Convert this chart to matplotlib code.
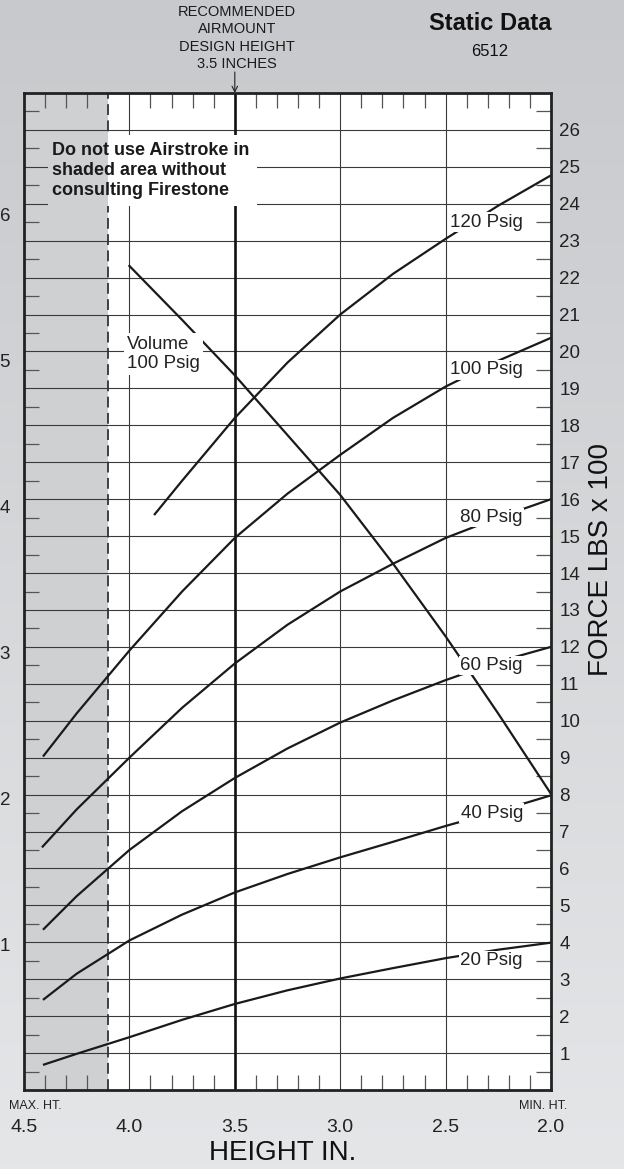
import matplotlib
matplotlib.use("Agg")
import matplotlib.pyplot as plt
import numpy as np
from matplotlib.patches import Rectangle

plt.rcParams['font.family'] = ['Liberation Sans', 'DejaVu Sans']

# force curves (height in., force lbs x 100)
h_120 = [3.883, 3.75, 3.5, 3.25, 3.0, 2.75, 2.5, 2.25, 2.0]
f_120 = [15.57, 16.5, 18.2, 19.7, 21.0, 22.1, 23.05, 23.95, 24.77]
h_100 = [4.41, 4.25, 4.0, 3.75, 3.5, 3.25, 3.0, 2.75, 2.5, 2.25, 2.0]
f_100 = [9.03, 10.2, 11.9, 13.5, 14.95, 16.15, 17.2, 18.2, 19.05, 19.75, 20.37]
h_80 = [4.415, 4.25, 4.0, 3.75, 3.5, 3.25, 3.0, 2.75, 2.5, 2.25, 2.0]
f_80 = [6.57, 7.6, 9.0, 10.35, 11.55, 12.6, 13.5, 14.25, 14.95, 15.5, 16.0]
h_60 = [4.41, 4.25, 4.0, 3.75, 3.5, 3.25, 3.0, 2.75, 2.5, 2.25, 2.0]
f_60 = [4.34, 5.25, 6.5, 7.55, 8.45, 9.25, 9.95, 10.55, 11.1, 11.6, 12.0]
h_40 = [4.41, 4.25, 4.0, 3.75, 3.5, 3.25, 3.0, 2.75, 2.5, 2.25, 2.0]
f_40 = [2.44, 3.15, 4.05, 4.75, 5.35, 5.85, 6.3, 6.72, 7.15, 7.55, 7.98]
h_20 = [4.41, 4.25, 4.0, 3.75, 3.5, 3.25, 3.0, 2.75, 2.5, 2.25, 2.0]
f_20 = [0.68, 0.98, 1.43, 1.9, 2.33, 2.7, 3.02, 3.3, 3.57, 3.8, 3.99]

# volume at 100 psig (left scale)
h_vol = [4.0, 3.75, 3.5, 3.25, 3.0, 2.75, 2.5, 2.25, 2.0]
vol = [5.65, 5.28, 4.90, 4.49, 4.08, 3.61, 3.11, 2.58, 2.03]

curves = [(h_120, f_120, '120 Psig', 23.5), (h_100, f_100, '100 Psig', 19.5),
          (h_80, f_80, '80 Psig', 15.5), (h_60, f_60, '60 Psig', 11.5),
          (h_40, f_40, '40 Psig', 7.5), (h_20, f_20, '20 Psig', 3.5)]

height_ticks = [4.5, 4.0, 3.5, 3.0, 2.5, 2.0]
force_ticks = list(range(1, 27))
vol_ticks = [1, 2, 3, 4, 5, 6]
VOL_SCALE = 3.95

W, H = 624, 1169
fig = plt.figure(figsize=(W / 100, H / 100), dpi=100)

# gradient background
bg = fig.add_axes([0, 0, 1, 1], zorder=-10)
grad = np.linspace(0, 1, 256).reshape(-1, 1)
top = np.array([200, 201, 204]) / 255
bot = np.array([229, 230, 232]) / 255
img = top + (bot - top) * grad[:, :, None]
bg.imshow(img, aspect='auto', extent=[0, 1, 0, 1], origin='upper')
bg.axis('off')

L, R, T, B = 24, 551, 93, 1090
ax = fig.add_axes([L / W, 1 - B / H, (R - L) / W, (B - T) / H])
ax.set_facecolor('white')
ax.set_xlim(4.5, 2.0)
ax.set_ylim(0, 27)

# shaded zone + dashed limit
ax.axvspan(4.5, 4.1, color='#cfd0d2', lw=0, zorder=0.5)
ax.axvline(4.1, color='#333333', lw=1.3, ls=(0, (6, 3)), zorder=1.5)

for y in force_ticks:
    ax.axhline(y, color='#3a3a3a', lw=0.8, zorder=1)
for x in [4.0, 3.0, 2.5]:
    ax.axvline(x, color='#3a3a3a', lw=0.8, zorder=1)
ax.axvline(3.5, color='#111111', lw=1.9, zorder=1.2)

# warning box
ax.add_patch(Rectangle((4.1, 23.95), 4.386 - 4.1, 1.9,
                       facecolor='#cfd0d2', lw=0, zorder=2))
ax.add_patch(Rectangle((3.395, 23.95), 4.1 - 3.395, 1.9,
                       facecolor='white', lw=0, zorder=2))
ax.text(4.367, 24.9, 'Do not use Airstroke in\nshaded area without\nconsulting Firestone',
        fontsize=13, fontweight='bold', ha='left', va='center', linespacing=1.22,
        color='#1a1a1a', zorder=5)

for hh, ff, lab, ly in curves:
    ax.plot(hh, ff, color='#1a1a1a', lw=1.6, zorder=3, solid_capstyle='butt')
    ax.text(2.133, ly, lab, fontsize=13.5, ha='right', va='center', color='#222222',
            zorder=5, bbox=dict(facecolor='white', edgecolor='none', pad=1.0))

ax.plot(h_vol, np.array(vol) * VOL_SCALE, color='#1a1a1a', lw=1.6, zorder=3)
ax.text(4.011, 19.93, 'Volume\n100 Psig', fontsize=13.5, ha='left', va='center',
        color='#222222', linespacing=1.22, zorder=4,
        bbox=dict(facecolor='white', edgecolor='none', pad=2.0))

# axes ticks
ax.set_xticks(height_ticks)
ax.set_xticklabels(['%.1f' % v for v in height_ticks])
minor_x = [4.4, 4.3, 4.2, 3.9, 3.8, 3.7, 3.6, 3.4, 3.3, 3.2, 3.1,
           2.9, 2.8, 2.7, 2.6, 2.4, 2.3, 2.2, 2.1]
ax.set_xticks(minor_x, minor=True)
ax.tick_params(axis='x', which='major', length=0, pad=21, labelsize=14, labelcolor='#222222')
ax.tick_params(axis='x', which='minor', direction='in', length=11, width=0.9,
               color='#555555', top=True, bottom=True)

ax.set_yticks(force_ticks)
ax.set_yticks([v + 0.5 for v in range(0, 27)], minor=True)
ax.yaxis.tick_right()
ax.tick_params(axis='y', which='major', length=0, pad=6, labelsize=13.5,
               labelcolor='#222222', left=False, right=True, labelleft=False, labelright=True)
ax.tick_params(axis='y', which='minor', direction='in', length=11, width=0.9,
               color='#555555', left=True, right=True)

for s in ax.spines.values():
    s.set_linewidth(2.0)
    s.set_color('#222222')
    s.set_zorder(6)

sec = ax.secondary_yaxis('left', functions=(lambda f: f / VOL_SCALE, lambda v: v * VOL_SCALE))
sec.set_yticks(vol_ticks)
sec.yaxis.set_minor_locator(plt.NullLocator())
sec.tick_params(length=0, pad=10, labelsize=13.5, labelcolor='#222222')
sec.spines['left'].set_visible(False)

fig.text(601 / W, 1 - 560 / H, 'FORCE LBS x 100', rotation=90, ha='center', va='center',
         fontsize=20, color='#111111')

# header / footer texts
fig.text(237 / W, 1 - 38 / H, 'RECOMMENDED\nAIRMOUNT\nDESIGN HEIGHT\n3.5 INCHES',
         ha='center', va='center', fontsize=10.5, linespacing=1.28, color='#1a1a1a')
ax.annotate('', xy=(3.5, 27.0), xytext=(3.5, 27.0 + 21 / 36.92),
            arrowprops=dict(arrowstyle='->', lw=0.8, color='#222222', shrinkA=0, shrinkB=0),
            annotation_clip=False)
fig.text(490 / W, 1 - 24 / H, 'Static Data', ha='center', va='center',
         fontsize=17, fontweight='bold', color='#111111')
fig.text(490 / W, 1 - 52 / H, '6512', ha='center', va='center', fontsize=12, color='#111111')
fig.text(35 / W, 1 - 1106 / H, 'MAX. HT.', ha='center', va='center', fontsize=9, color='#222222')
fig.text(543 / W, 1 - 1106 / H, 'MIN. HT.', ha='center', va='center', fontsize=9, color='#222222')
fig.text(283 / W, 1 - 1153 / H, 'HEIGHT IN.', ha='center', va='center', fontsize=20, color='#111111')

fig.savefig('out.png', dpi=100)
